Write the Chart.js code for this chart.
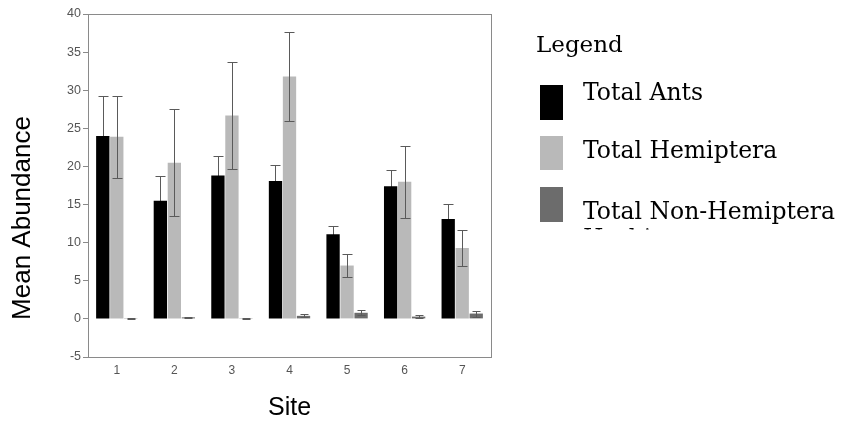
<!DOCTYPE html>
<html>
<head>
<meta charset="utf-8">
<script src="https://cdn.jsdelivr.net/npm/chart.js@4.4.1/dist/chart.umd.min.js"></script>
<style>
  html, body { margin: 0; padding: 0; background: #fff; }
  #wrap { width: 841px; height: 421px; }
</style>
</head>
<body>
<div id="wrap"><canvas id="chart" width="841" height="421"></canvas></div>
<script>
// data
const sites = ['1', '2', '3', '4', '5', '6', '7'];
const seriesNames = ['Total Ants', 'Total Hemiptera', 'Total Non-Hemiptera'];
const antsMean = [24.0, 15.5, 18.8, 18.1, 11.1, 17.4, 13.1];
const antsErr = [5.2, 3.2, 2.6, 2.1, 1.1, 2.1, 2.0];
const hemiMean = [23.9, 20.5, 26.7, 31.8, 7.0, 18.0, 9.3];
const hemiErr = [5.4, 7.0, 7.0, 5.8, 1.5, 4.7, 2.35];
const nonHemiMean = [0.1, 0.2, 0.1, 0.4, 0.8, 0.3, 0.7];
const nonHemiErr = [0.05, 0.1, 0.05, 0.2, 0.35, 0.2, 0.4];
const yTicks = [-5, 0, 5, 10, 15, 20, 25, 30, 35, 40];

const colors = ['#000000', '#b9b9b9', '#6c6c6c'];
const errors = [antsErr, hemiErr, nonHemiErr];

// error bars on top of the bars ('darken' keeps them invisible on the black bars)
const errorBars = {
    id: 'errorBars',
    afterDatasetsDraw(chart) {
        const ctx = chart.ctx;
        const y = chart.scales.y;
        ctx.save();
        ctx.globalCompositeOperation = 'darken';
        ctx.strokeStyle = '#5a5a5a';
        ctx.lineWidth = 1;
        chart.data.datasets.forEach((ds, i) => {
            const meta = chart.getDatasetMeta(i);
            meta.data.forEach((bar, j) => {
                const v = ds.data[j];
                const e = errors[i][j];
                const x = Math.round(bar.x) + 0.5;
                const yt = Math.round(y.getPixelForValue(v + e)) + 0.5;
                const yb = Math.round(y.getPixelForValue(v - e)) + 0.5;
                const cap = i === 2 ? 4 : 5;
                ctx.beginPath();
                ctx.moveTo(x, yt); ctx.lineTo(x, yb);
                ctx.moveTo(x - cap, yt); ctx.lineTo(x + cap, yt);
                ctx.moveTo(x - cap, yb); ctx.lineTo(x + cap, yb);
                ctx.stroke();
            });
        });
        ctx.restore();
    }
};

// frame, y title and legend
const decorations = {
    id: 'decorations',
    afterDraw(chart) {
        const ctx = chart.ctx;
        const a = chart.chartArea;
        ctx.save();
        ctx.strokeStyle = '#8a8a8a';
        ctx.lineWidth = 1;
        ctx.strokeRect(Math.round(a.left) + 0.5, Math.round(a.top) + 0.5,
            Math.round(a.right - a.left), Math.round(a.bottom - a.top));

        ctx.fillStyle = '#000';
        ctx.font = '26px "Liberation Sans", Arial, sans-serif';
        ctx.textAlign = 'center';
        ctx.textBaseline = 'middle';
        ctx.translate(23, 218);
        ctx.rotate(-Math.PI / 2);
        ctx.fillText('Mean Abundance', 0, 0);
        ctx.restore();

        ctx.save();
        ctx.fillStyle = '#000';
        ctx.textAlign = 'left';
        ctx.textBaseline = 'alphabetic';
        ctx.font = '23px "DejaVu Serif", serif';
        ctx.fillText('Legend', 536, 52);
        const boxes = [[540, 85, 35, 100], [540, 136, 34, 158], [540, 187, 35, 219]];
        ctx.font = '23.5px "DejaVu Serif", serif';
        chart.data.datasets.forEach((ds, i) => {
            const b = boxes[i];
            ctx.fillStyle = ds.backgroundColor;
            ctx.fillRect(b[0], b[1], 23, b[2]);
            ctx.fillStyle = '#000';
            ctx.fillText(ds.label, 583, b[3]);
        });
        ctx.beginPath();
        ctx.rect(570, 222, 271, 7.5);
        ctx.clip();
        ctx.fillText('Herbivores', 583, 246);
        ctx.restore();
    }
};

new Chart(document.getElementById('chart'), {
    type: 'bar',
    data: {
        labels: sites,
        datasets: [
            { label: seriesNames[0], data: antsMean, backgroundColor: colors[0] },
            { label: seriesNames[1], data: hemiMean, backgroundColor: colors[1] },
            { label: seriesNames[2], data: nonHemiMean, backgroundColor: colors[2] }
        ]
    },
    options: {
        responsive: false,
        animation: false,
        devicePixelRatio: 1,
        layout: { padding: { left: 0, top: 14, right: 350, bottom: 0 } },
        datasets: { bar: { categoryPercentage: 0.73, barPercentage: 0.95 } },
        scales: {
            x: {
                grid: { display: false, drawTicks: false },
                border: { display: true, color: '#8a8a8a' },
                ticks: { color: '#555', font: { family: 'Liberation Sans', size: 12 }, padding: 6 },
                title: {
                    display: true, text: 'Site', color: '#000',
                    font: { family: 'Liberation Sans', size: 25 },
                    padding: { top: 0, bottom: -2 }
                },
                afterFit(scale) { scale.height = 64; }
            },
            y: {
                min: -5, max: 40,
                afterBuildTicks(scale) { scale.ticks = yTicks.map(v => ({ value: v })); },
                grid: { display: true, drawOnChartArea: false, drawTicks: true, tickLength: 5, color: '#8a8a8a' },
                border: { display: true, color: '#8a8a8a' },
                ticks: { color: '#555', font: { family: 'Liberation Sans', size: 12.5 }, padding: 2 },
                afterFit(scale) { scale.width = 88; }
            }
        },
        plugins: {
            legend: { display: false },
            tooltip: { enabled: false }
        }
    },
    plugins: [errorBars, decorations]
});
</script>
</body>
</html>
